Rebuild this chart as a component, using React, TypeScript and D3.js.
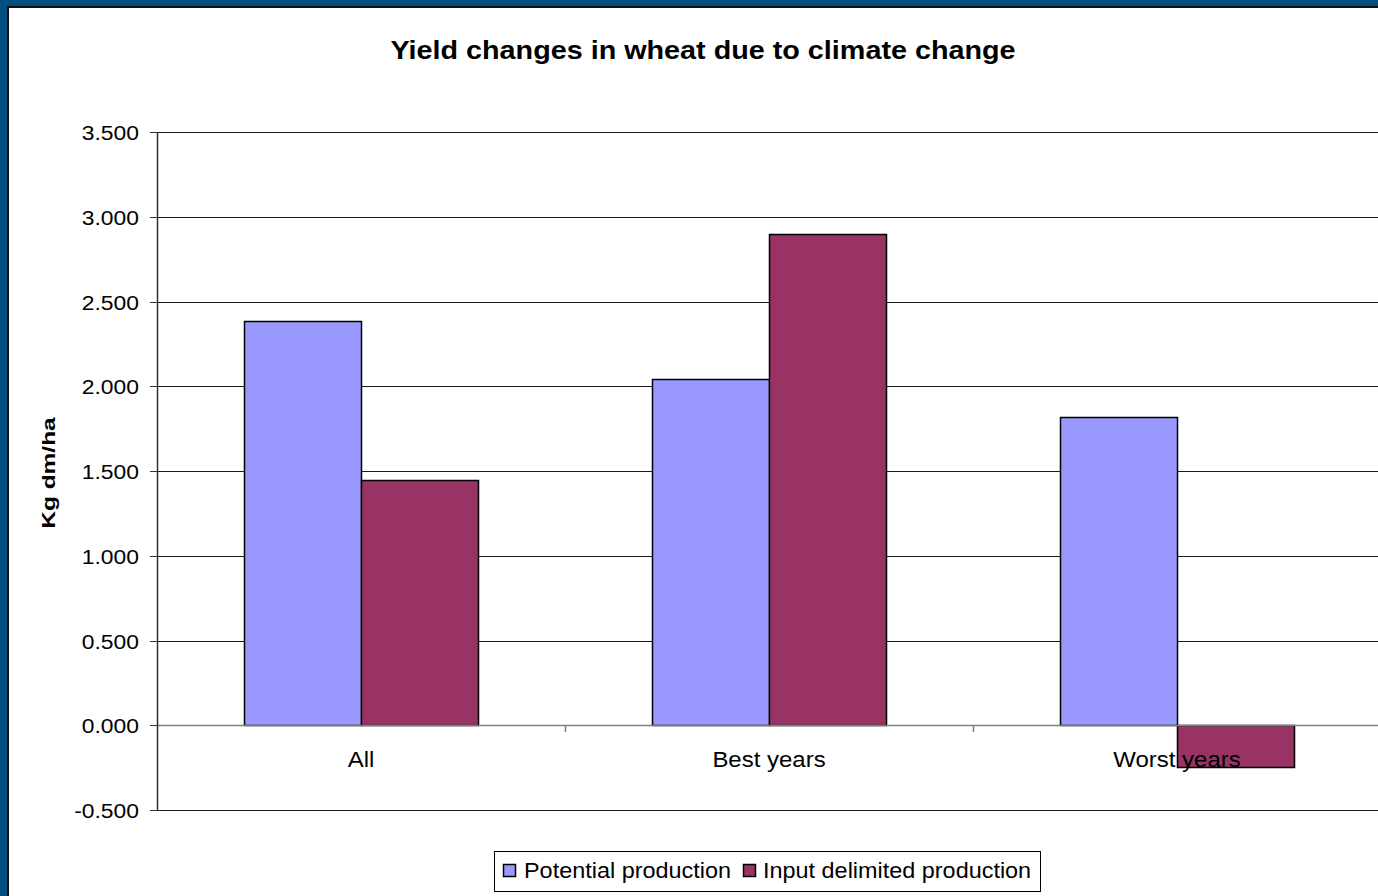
import React from "react";
import * as d3 from "d3";

const categories = ["All", "Best years", "Worst years"];
const seriesNames = ["Potential production", "Input delimited production"];
const potential = [2.385, 2.041, 1.817];
const inputDelimited = [1.445, 2.897, -0.248];
const yTicks = [-0.5, 0, 0.5, 1, 1.5, 2, 2.5, 3, 3.5];
const colors = ["#9999FF", "#993366"];

const W = 1378;
const H = 896;
const plot = { left: 157, right: 1381, top: 132, bottom: 810 };
const FONT = "'Liberation Sans', Arial, sans-serif";
// glyphs are drawn slightly wide
const SX = 1.12;

type LabelProps = {
  x: number;
  y: number;
  size: number;
  anchor?: "start" | "middle" | "end";
  bold?: boolean;
  sx?: number;
  rotate?: number;
  children: React.ReactNode;
};

function Label({ x, y, size, anchor = "start", bold = false, sx = SX, rotate = 0, children }: LabelProps) {
  return (
    <text
      transform={`translate(${x},${y}) rotate(${rotate}) scale(${sx},1)`}
      textAnchor={anchor}
      fontSize={size}
      fontWeight={bold ? "bold" : "normal"}
      fill="#000"
    >
      {children}
    </text>
  );
}

export default function App() {
  const x0 = d3
    .scaleBand<string>()
    .domain(categories)
    .range([plot.left, plot.right])
    .paddingInner(0)
    .paddingOuter(0);
  const groupPad = (x0.bandwidth() - (x0.bandwidth() / 3.5) * 2) / 2;
  const x1 = d3
    .scaleBand<string>()
    .domain(seriesNames)
    .range([groupPad, x0.bandwidth() - groupPad]);
  const y = d3.scaleLinear().domain([-0.5, 3.5]).range([plot.bottom, plot.top]);
  const fmt = (v: number) => d3.format(".3f")(v).replace("−", "-");
  const values = [potential, inputDelimited];
  const y0 = Math.round(y(0));

  return (
    <div style={{ position: "absolute", left: 0, top: 0 }}>
      <svg width={W} height={H} style={{ display: "block", fontFamily: FONT }}>
        {/* frame */}
        <rect x={0} y={0} width={W} height={H} fill="#004F7F" />
        <rect x={7} y={6} width={W} height={H} fill="#111" />
        <rect x={9} y={8} width={W} height={H} fill="#ffffff" />

        <Label x={703} y={59} size={25} anchor="middle" bold sx={1.15}>
          Yield changes in wheat due to climate change
        </Label>

        {/* gridlines and y ticks */}
        {yTicks.map((t) => {
          const yy = Math.round(y(t)) + 0.5;
          return (
            <g key={t}>
              {t !== 0 && (
                <line x1={plot.left} x2={W} y1={yy} y2={yy} stroke="#1a1a1a" strokeWidth={1} />
              )}
              <line x1={plot.left - 7} x2={plot.left} y1={yy} y2={yy} stroke="#333" strokeWidth={1} />
              <Label x={139} y={yy + 7.5} size={21} anchor="end" sx={1.09}>
                {fmt(t)}
              </Label>
            </g>
          );
        })}

        {/* bars */}
        {categories.map((c, i) => (
          <g key={c} transform={`translate(${x0(c)},0)`}>
            {seriesNames.map((s, j) => {
              const v = values[j][i];
              const top = Math.round(y(Math.max(0, v)));
              const bot = Math.round(y(Math.min(0, v)));
              return (
                <rect
                  key={s}
                  x={Math.round(x1(s)!) + 0.5}
                  y={top + 0.5}
                  width={Math.round(x1.bandwidth())}
                  height={bot - top}
                  fill={colors[j]}
                  stroke="#000"
                  strokeWidth={1.5}
                />
              );
            })}
          </g>
        ))}

        {/* zero axis */}
        <line x1={plot.left} x2={W} y1={y0 + 0.5} y2={y0 + 0.5} stroke="#808080" strokeWidth={1.5} />
        {categories.slice(1).map((c) => (
          <line
            key={c}
            x1={Math.round(x0(c)!) + 0.5}
            x2={Math.round(x0(c)!) + 0.5}
            y1={y0}
            y2={y0 + 7}
            stroke="#808080"
            strokeWidth={1.5}
          />
        ))}
        {/* y axis */}
        <line x1={plot.left + 0.5} x2={plot.left + 0.5} y1={plot.top} y2={plot.bottom + 1} stroke="#333" strokeWidth={1.5} />

        {/* category labels */}
        {categories.map((c) => (
          <Label key={c} x={x0(c)! + x0.bandwidth() / 2} y={767} size={22} anchor="middle" sx={1.09}>
            {c}
          </Label>
        ))}

        <Label x={55} y={473} size={18} anchor="middle" bold rotate={-90} sx={1.36}>
          Kg dm/ha
        </Label>

        {/* legend */}
        <rect x={494.5} y={851.5} width={546} height={40} fill="#fff" stroke="#000" strokeWidth={1} />
        <rect x={503.5} y={864.5} width={12} height={12} fill={colors[0]} stroke="#000" strokeWidth={1.5} />
        <Label x={524} y={878} size={21.5} sx={1.09}>
          {seriesNames[0]}
        </Label>
        <rect x={743.5} y={864.5} width={12} height={12} fill={colors[1]} stroke="#000" strokeWidth={1.5} />
        <Label x={763} y={878} size={21.5} sx={1.09}>
          {seriesNames[1]}
        </Label>
      </svg>
    </div>
  );
}
